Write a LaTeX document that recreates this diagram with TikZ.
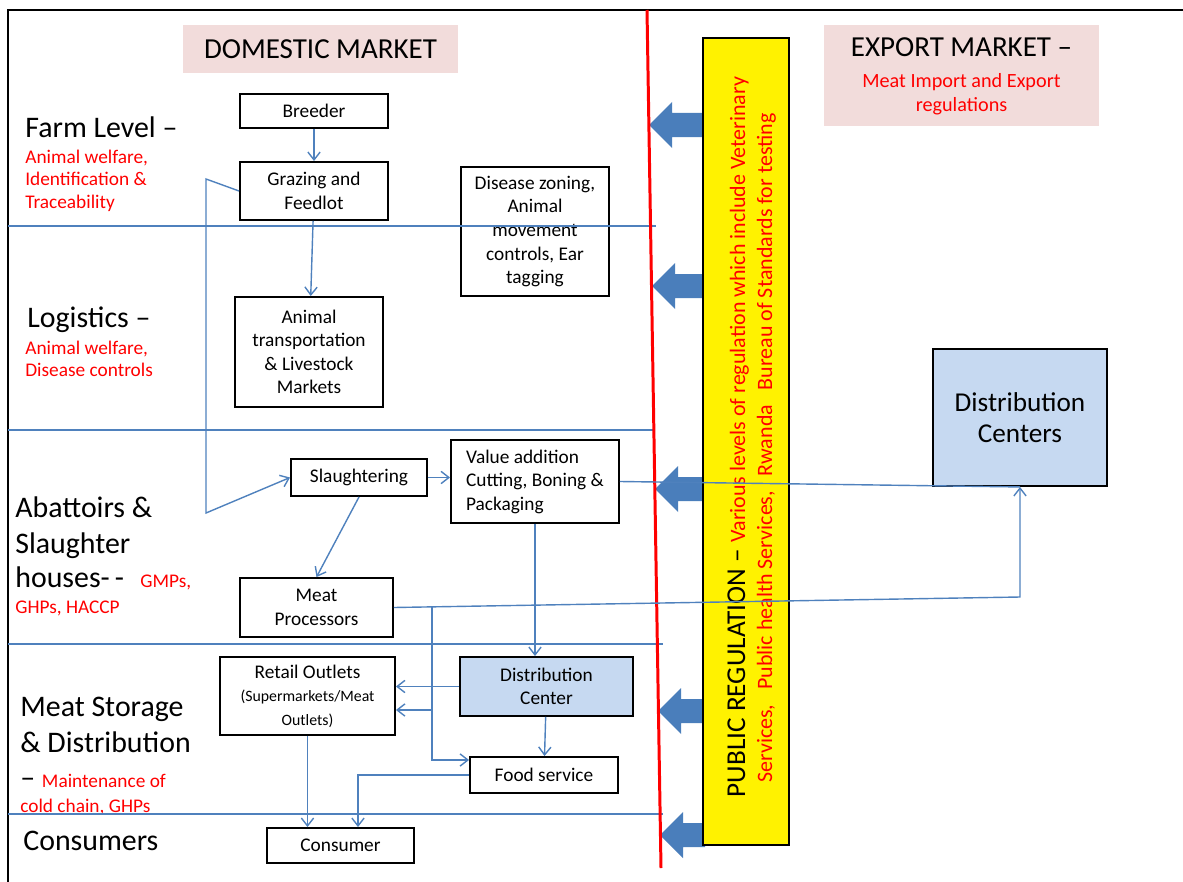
\documentclass[tikz,border=0pt]{standalone}
\usepackage{fontspec}
\setmainfont{Carlito}
\usetikzlibrary{arrows.meta}
\definecolor{lineblue}{HTML}{4F81BD}
\definecolor{arrowblue}{HTML}{4A7EBB}
\definecolor{pinkbg}{HTML}{F2DCDB}
\definecolor{boxblue}{HTML}{C6D9F1}
\begin{document}
\begin{tikzpicture}
    [
    x=0.02cm, y=-0.02cm,
    box/.style={draw,line width=1.1pt,fill=white,align=center,inner sep=1pt,font=\fontsize{11}{13.4}\selectfont},
    dcbox/.style={box,fill=boxblue},
    level/.style={anchor=base west,inner sep=0pt,font=\fontsize{17}{20}\selectfont},
    note/.style={anchor=base west,inner sep=0pt,text=red,font=\fontsize{11}{13}\selectfont},
    lane/.style={draw=lineblue,line width=1pt},
    flow/.style={draw=lineblue,line width=0.8pt,-{Straight Barb[length=4.5pt,width=7pt]}},
    link/.style={draw=lineblue,line width=0.8pt},
    regarrow/.style={fill=arrowblue}
    ]
    \useasboundingbox (0,0) rectangle (1183,882);
    \draw [line width=1.6pt] (8,882) -- (8,10) -- (1183,10);

    \node (dom) at (320.5,49) [fill=pinkbg,minimum width=5.5cm,minimum height=0.96cm,font=\fontsize{16.5}{19}\selectfont] {DOMESTIC MARKET};
    \node (exp) at (961.5,75.5) [fill=pinkbg,minimum width=5.5cm,minimum height=2.02cm] {};
    \node (expt) at (961.5,57) [anchor=base,inner sep=0pt,font=\fontsize{16.5}{19}\selectfont] {EXPORT MARKET –};
    \node (expa) at (961.5,88) [anchor=base,inner sep=0pt,text=red,font=\fontsize{11.5}{13.6}\selectfont] {Meat Import and Export};
    \node (expb) at (961.5,112) [anchor=base,inner sep=0pt,text=red,font=\fontsize{11.5}{13.6}\selectfont] {regulations};

    \node (farm) at (25,137) [level] {Farm Level –};
    \node (farma) at (25,163) [note] {Animal welfare,};
    \node (farmb) at (25,185) [note] {Identification \&};
    \node (farmc) at (25,208) [note] {Traceability};
    \node (logi) at (27,327) [level] {Logistics –};
    \node (logia) at (25,354) [note] {Animal welfare,};
    \node (logib) at (25,376) [note] {Disease controls};
    \node (abat) at (15,517) [level] {Abattoirs \&};
    \node (abatb) at (15,553) [level] {Slaughter};
    \node (abatc) at (15,587) [level] {houses-\,-};
    \node (abatn) at (140,587) [note] {GMPs,};
    \node (abatm) at (15,613) [note] {GHPs, HACCP};
    \node (store) at (20,716) [level] {Meat Storage};
    \node (storeb) at (20,752) [level] {\& Distribution};
    \node (storec) at (20,787) [level] {– {\color{red}\fontsize{11}{13}\selectfont Maintenance of}};
    \node (storen) at (20,812) [note] {cold chain, GHPs};
    \node (cons) at (23,850) [level] {Consumers};

    \node (br) at (314,111) [box,minimum width=2.96cm,minimum height=0.68cm] {Breeder};
    \node (gz) at (314,191) [box,minimum width=2.96cm,minimum height=1.16cm] {Grazing and\\Feedlot};
    \node (dz) at (535,231.5) [box,minimum width=2.96cm,minimum height=2.58cm] {Disease zoning,\\Animal\\movement\\controls, Ear\\tagging};
    \node (at) at (309,352) [box,minimum width=2.96cm,minimum height=2.2cm] {Animal\\transportation\\\& Livestock\\Markets};
    \node (sl) at (359,477.5) [box,minimum width=2.72cm,minimum height=0.74cm] {Slaughtering};
    \node (va) at (535,481.5) [box,align=left,minimum width=3.36cm,minimum height=1.66cm] {Value addition\\Cutting, Boning \&\\Packaging};
    \node (mp) at (316.5,607.5) [box,minimum width=3.06cm,minimum height=1.18cm] {Meat\\Processors};
    \node (rt) at (307.5,696) [box,minimum width=3.5cm,minimum height=1.56cm] {Retail Outlets\\{\fontsize{9}{11}\selectfont (Supermarkets/Meat}\\{\fontsize{9}{11}\selectfont Outlets)}};
    \node (dc) at (546.5,686.5) [dcbox,minimum width=3.46cm,minimum height=1.18cm] {Distribution\\Center};
    \node (fs) at (544,775) [box,minimum width=2.96cm,minimum height=0.72cm] {Food service};
    \node (cs) at (340.5,845.5) [box,minimum width=2.94cm,minimum height=0.7cm] {Consumer};
    \node (dcs) at (1020,417.5) [dcbox,minimum width=3.48cm,minimum height=2.74cm,font=\fontsize{15.5}{18}\selectfont] {Distribution\\Centers};

    \draw [lane] (8,226) -- (656,226);
    \draw [lane] (8,430) -- (653,430);
    \draw [lane] (8,644) -- (663,644);
    \draw [lane] (8,814) -- (663,814);

    \fill [regarrow] (649,125) -- (672,102) -- (672,113) -- (705,113) -- (705,137) -- (672,137) -- (672,148) -- cycle;
    \fill [regarrow] (652,286) -- (675,263) -- (675,274) -- (705,274) -- (705,298) -- (675,298) -- (675,309) -- cycle;
    \fill [regarrow] (655,489) -- (678,466) -- (678,477) -- (705,477) -- (705,501) -- (678,501) -- (678,512) -- cycle;
    \fill [regarrow] (658,711) -- (681,688) -- (681,699) -- (705,699) -- (705,723) -- (681,723) -- (681,734) -- cycle;
    \fill [regarrow] (660,835) -- (683,812) -- (683,823) -- (705,823) -- (705,847) -- (683,847) -- (683,858) -- cycle;
    \draw [red,line width=1.7pt] (647,10) -- (661,868);

    \node (pub) at (746,441.5) [draw,line width=1.1pt,fill=yellow,minimum width=1.72cm,minimum height=16.14cm] {};
    \node (puba) at (745,437) [rotate=90,anchor=base,inner sep=0pt,font=\fontsize{15.5}{18}\selectfont] {PUBLIC REGULATION – {\color{red}\fontsize{12.5}{14}\selectfont Various levels of regulation which include Veterinary}};
    \node (pubb) at (772,448) [rotate=90,anchor=base,inner sep=0pt,text=red,font=\fontsize{12.5}{14}\selectfont] {Services,\ \ \ Public health Services,\ \ \ Rwanda\ \ \ Bureau of Standards for testing};

    \coordinate (gzbend) at (206,179);
    \coordinate (gzdown) at (206,513);
    \coordinate (dcjoin) at (1020,597);
    \coordinate (mpsplit) at (432,607);
    \coordinate (mprt) at (432,710);
    \coordinate (mpfs) at (432,760);
    \coordinate (fsbend) at (358,775);
    \draw [flow] (br) -- (gz);
    \draw [flow] (gz) -- (at);
    \draw [flow] (gz.west) -- (gzbend) -- (gzdown) -- (sl.west);
    \draw [flow] (sl.east) -- (sl.east -| va.west);
    \draw [flow] (sl.south) -- (mp.north);
    \draw [flow] (va.south) -- (va.south |- dc.north);
    \draw [link] (va.east) -- (dcs.south);
    \draw [flow] (mp.east) -- (dcjoin) -- (dcs.south);
    \draw [flow] (mpsplit) -- (mpfs) -- (mpfs -| fs.west);
    \draw [flow] (mprt) -- (mprt -| rt.east);
    \draw [flow] (dc.west) -- (dc.west -| rt.east);
    \draw [flow] (dc) -- (fs);
    \draw [flow] (fs.west) -- (fsbend) -- (fsbend |- cs.north);
    \draw [flow] (rt.south) -- (rt.south |- cs.north);
  \end{tikzpicture}
\end{document}
